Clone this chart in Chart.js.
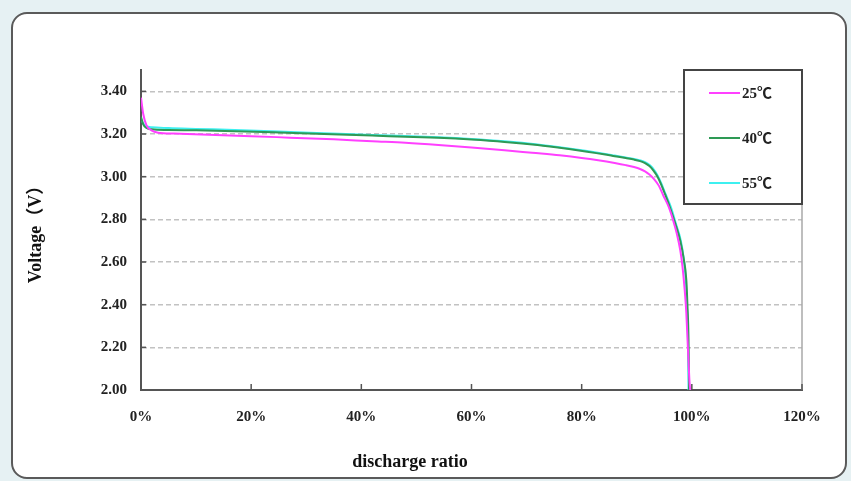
<!DOCTYPE html>
<html>
<head>
<meta charset="utf-8">
<script src="https://cdn.jsdelivr.net/npm/chart.js@4.4.1/dist/chart.umd.min.js"></script>
<style>
  html, body { margin: 0; padding: 0; }
  body { width: 851px; height: 481px; background: #e6f1f3; position: relative; overflow: hidden; }
  #panel { position: absolute; left: 11px; top: 12px; width: 832px; height: 463px; background: #fff;
           border: 2px solid #5a5a5a; border-radius: 16px; }
  #c { position: absolute; left: 0; top: 0; }
</style>
</head>
<body>
<div id="panel"></div>
<canvas id="c" width="851" height="481"></canvas>
<script>
// discharge curves: ratio in %, voltage in V
var seriesNames = ['25℃', '40℃', '55℃'];
var seriesColors = ['#ff40ff', '#2e9a55', '#3ef0f0'];

var ratio25 = [0, 0.4, 1.0, 1.9, 3.1, 6, 11, 20, 27, 35, 42, 48, 54, 60, 66, 71, 76, 80, 83, 86, 88, 89.5, 90.6, 91.5, 92.3, 93.1, 94.0, 94.8, 95.8, 96.6, 97.3, 97.9, 98.3, 98.7, 99.0, 99.3, 99.55, 99.7];
var volt25 = [3.37, 3.295, 3.24, 3.217, 3.206, 3.202, 3.198, 3.19, 3.183, 3.175, 3.166, 3.159, 3.149, 3.137, 3.124, 3.112, 3.100, 3.088, 3.077, 3.064, 3.054, 3.045, 3.036, 3.025, 3.010, 2.990, 2.958, 2.913, 2.858, 2.796, 2.730, 2.655, 2.580, 2.470, 2.360, 2.190, 2.050, 2.000];

var ratio40 = [0, 0.4, 1.0, 2.0, 5, 10, 17, 25, 36, 45, 54, 60, 66, 72, 78, 81, 84, 86, 88, 89.5, 90.6, 91.5, 92.3, 93.0, 93.7, 94.4, 95.1, 96.0, 97.0, 97.9, 98.5, 99.0, 99.2, 99.4, 99.5];
var volt40 = [3.28, 3.245, 3.228, 3.222, 3.219, 3.217, 3.213, 3.207, 3.198, 3.19, 3.182, 3.174, 3.163, 3.148, 3.128, 3.117, 3.105, 3.096, 3.087, 3.080, 3.073, 3.064, 3.050, 3.030, 3.003, 2.965, 2.920, 2.858, 2.78, 2.70, 2.62, 2.515, 2.40, 2.234, 2.0];

var ratio55 = [0, 0.4, 1.0, 2.0, 5, 10, 17, 25, 36, 45, 54, 60, 66, 72, 78, 81, 84, 86, 88, 89.5, 90.7, 91.6, 92.4, 93.1, 93.8, 94.5, 95.2, 96.2, 97.1, 98.0, 98.5, 98.9, 99.1, 99.3, 99.4];
var volt55 = [3.27, 3.25, 3.235, 3.232, 3.228, 3.224, 3.219, 3.212, 3.201, 3.193, 3.185, 3.177, 3.166, 3.151, 3.131, 3.12, 3.108, 3.099, 3.090, 3.083, 3.076, 3.067, 3.053, 3.033, 3.005, 2.966, 2.920, 2.858, 2.78, 2.70, 2.62, 2.515, 2.40, 2.234, 2.0];

var voltageTicks = [2.0, 2.2, 2.4, 2.6, 2.8, 3.0, 3.2, 3.4];
var ratioTicks = [0, 20, 40, 60, 80, 100, 120];

var serif = '"Liberation Serif", "Noto Sans CJK SC", serif';

function points(xs, ys) {
  return xs.map(function(x, i) { return { x: x, y: ys[i] }; });
}

// inside tick marks, plot right edge and the boxed legend
var plotExtras = {
  id: 'plotExtras',
  afterDraw: function(chart) {
    var ctx = chart.ctx, a = chart.chartArea;
    var xs = chart.scales.x, ys = chart.scales.y;
    ctx.save();
    ctx.strokeStyle = '#a8a8a8';
    ctx.lineWidth = 1.5;
    ctx.beginPath();
    ctx.moveTo(a.right, a.top);
    ctx.lineTo(a.right, a.bottom);
    ctx.stroke();

    ctx.strokeStyle = '#555';
    ctx.lineWidth = 1.5;
    ys.ticks.forEach(function(t) {
      var y = ys.getPixelForValue(t.value);
      ctx.beginPath(); ctx.moveTo(a.left, y); ctx.lineTo(a.left + 5, y); ctx.stroke();
    });
    xs.ticks.forEach(function(t) {
      var x = xs.getPixelForValue(t.value);
      ctx.beginPath(); ctx.moveTo(x, a.bottom); ctx.lineTo(x, a.bottom - 6); ctx.stroke();
    });

    // legend
    var bx = a.right - 118, by = a.top, bw = 118, bh = 134;
    ctx.fillStyle = '#fff';
    ctx.fillRect(bx, by, bw, bh);
    ctx.strokeStyle = '#444';
    ctx.lineWidth = 2;
    ctx.strokeRect(bx, by, bw, bh);
    ctx.font = 'bold 15px ' + serif;
    ctx.textBaseline = 'middle';
    ctx.textAlign = 'left';
    chart.data.datasets.forEach(function(ds, i) {
      var y = by + 23 + i * 45;
      ctx.strokeStyle = ds.borderColor;
      ctx.lineWidth = 2;
      ctx.beginPath(); ctx.moveTo(bx + 25, y); ctx.lineTo(bx + 56, y); ctx.stroke();
      ctx.fillStyle = '#222';
      ctx.fillText(ds.label, bx + 58, y + 1);
    });
    ctx.restore();
  }
};

new Chart(document.getElementById('c'), {
  type: 'line',
  data: {
    datasets: [
      { label: seriesNames[0], data: points(ratio25, volt25), borderColor: seriesColors[0] },
      { label: seriesNames[1], data: points(ratio40, volt40), borderColor: seriesColors[1] },
      { label: seriesNames[2], data: points(ratio55, volt55), borderColor: seriesColors[2] }
    ]
  },
  options: {
    responsive: false,
    animation: false,
    layout: { padding: { top: 70, right: 49, left: 18, bottom: 0 } },
    elements: {
      point: { radius: 0 },
      line: { borderWidth: 2, cubicInterpolationMode: 'monotone', fill: false }
    },
    plugins: {
      legend: { display: false },
      tooltip: { enabled: false },
      title: {
        display: true,
        position: 'bottom',
        text: 'discharge ratio',
        color: '#111',
        font: { family: serif, size: 18, weight: 'bold' },
        padding: { top: 4, bottom: 8 }
      }
    },
    scales: {
      x: {
        type: 'linear',
        min: 0,
        max: 120,
        afterBuildTicks: function(s) { s.ticks = ratioTicks.map(function(v) { return { value: v }; }); },
        afterFit: function(s) { s.height = 57.4; },
        grid: { display: false, drawTicks: false },
        border: { display: true, color: '#555', width: 2 },
        ticks: {
          padding: 18,
          color: '#222',
          font: { family: serif, size: 15, weight: 'bold' },
          callback: function(v) { return v + '%'; }
        }
      },
      y: {
        min: 2.0,
        max: 3.5,
        afterBuildTicks: function(s) { s.ticks = voltageTicks.map(function(v) { return { value: v }; }); },
        afterFit: function(s) { s.width = 123; },
        grid: {
          drawTicks: false,
          lineWidth: 1.5,
          color: function(c) { return c.tick && c.tick.value === 2 ? 'rgba(0,0,0,0)' : '#c2c2c2'; }
        },
        border: { display: true, color: '#555', width: 2, dash: [5, 3] },
        title: {
          display: true,
          text: 'Voltage（V）',
          color: '#111',
          font: { family: serif, size: 18, weight: 'bold' },
          padding: { top: 8, bottom: 0 }
        },
        ticks: {
          padding: 14,
          color: '#222',
          font: { family: serif, size: 15, weight: 'bold' },
          callback: function(v) { return v.toFixed(2); }
        }
      }
    }
  },
  plugins: [plotExtras]
});
</script>
</body>
</html>
